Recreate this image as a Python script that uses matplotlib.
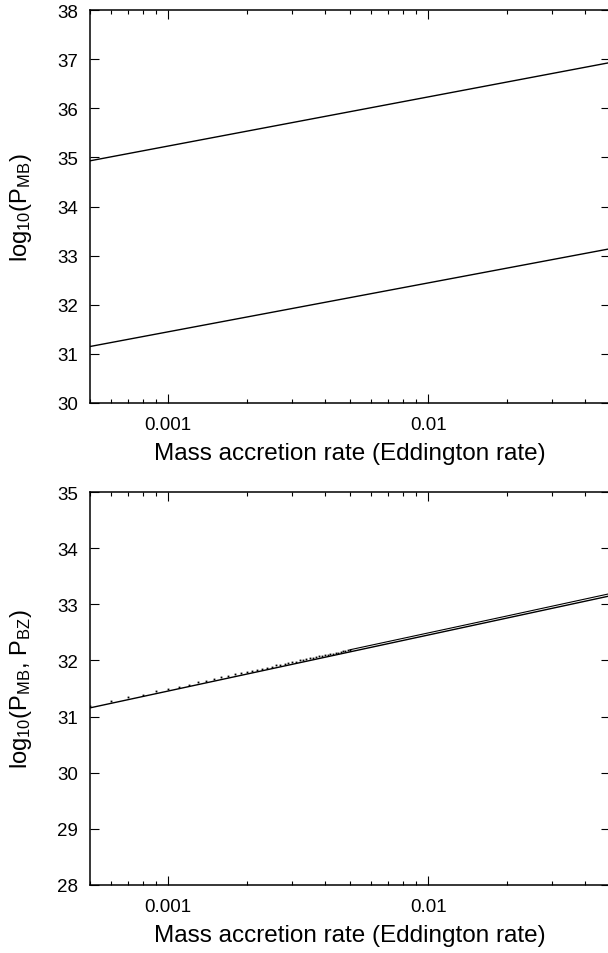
import numpy as np
import matplotlib
matplotlib.use('Agg')
import matplotlib.pyplot as plt
from matplotlib.ticker import LogLocator, FixedLocator, FixedFormatter, NullFormatter

plt.rcParams['font.family'] = ['Liberation Sans', 'DejaVu Sans']
plt.rcParams['mathtext.default'] = 'regular'

# top panel: two power lines (log10 P_MB), read at the ends of the x range
mdot_top = [0.0005, 0.05]
pmb_high = [34.93, 36.93]
pmb_low = [31.15, 33.14]

# bottom panel: P_MB solid line and P_BZ dotted (sampled every 1e-4)
mdot_bot = [0.0005, 0.05]
pmb_bot = [31.155, 33.15]
mdot_dots = [0.0005, 0.0006, 0.0007, 0.0008, 0.0009, 0.0010, 0.0011, 0.0012, 0.0013,
             0.0014, 0.0015, 0.0016, 0.0017, 0.0018, 0.0019, 0.0020, 0.0021, 0.0022,
             0.0023, 0.0024, 0.0025, 0.0026, 0.0027, 0.0028, 0.0029, 0.0030, 0.0031,
             0.0032, 0.0033, 0.0034, 0.0035, 0.0036, 0.0037, 0.0038, 0.0039, 0.0040,
             0.0041, 0.0042, 0.0043, 0.0044, 0.0045, 0.0046, 0.0047, 0.0048, 0.0049,
             0.0050]
pbz_dots = [31.19, 31.27, 31.34, 31.39, 31.45, 31.49, 31.53, 31.57, 31.61,
            31.64, 31.67, 31.70, 31.72, 31.75, 31.77, 31.79, 31.81, 31.83,
            31.85, 31.87, 31.89, 31.91, 31.92, 31.94, 31.95, 31.97, 31.98,
            32.00, 32.01, 32.02, 32.04, 32.05, 32.06, 32.07, 32.08, 32.09,
            32.10, 32.11, 32.12, 32.13, 32.14, 32.15, 32.16, 32.17, 32.18,
            32.19]
# where the dots run together into a line
mdot_dense = [0.005, 0.01, 0.02, 0.05]
pbz_dense = [32.19, 32.49, 32.79, 33.19]

xticks = [0.001, 0.01]
xticklabels = ['0.001', '0.01']

fig = plt.figure(figsize=(6.08, 9.54), dpi=100)
W, H = 608., 954.
ax1 = fig.add_axes([90/W, (H-404)/H, 520/W, 393/H])
ax2 = fig.add_axes([90/W, (H-886)/H, 520/W, 393/H])

def style(ax, ylo, yhi, ylabel):
  ax.set_xscale('log')
  ax.set_xlim(0.0005, 0.05)
  ax.set_ylim(ylo, yhi)
  ax.xaxis.set_major_locator(FixedLocator(xticks))
  ax.xaxis.set_major_formatter(FixedFormatter(xticklabels))
  ax.xaxis.set_minor_locator(LogLocator(base=10, subs=np.arange(2, 10)))
  ax.xaxis.set_minor_formatter(NullFormatter())
  ax.set_yticks(range(ylo, yhi+1))
  ax.tick_params(which='both', direction='in', top=True, right=True, labelsize=13.5, width=0.8)
  ax.tick_params(which='major', length=6.5)
  ax.tick_params(axis='x', which='major', pad=9.5)
  ax.tick_params(axis='y', which='major', pad=8.4)
  ax.tick_params(which='minor', length=3.2)
  for s in ax.spines.values():
    s.set_linewidth(1.1)
  ax.set_xlabel('Mass accretion rate (Eddington rate)', size=17.5)
  ax.xaxis.set_label_coords(0.5, -39/393.)
  ax.set_ylabel(ylabel, size=17)
  ax.yaxis.set_label_coords(-56/520., 0.5)

ax1.plot(mdot_top, pmb_high, c='k', lw=1.0)
ax1.plot(mdot_top, pmb_low, c='k', lw=1.0)
style(ax1, 30, 38, r'log$_{10}$(P$_{MB}$)')

ax2.plot(mdot_bot, pmb_bot, c='k', lw=1.0)
ax2.plot(mdot_dots, pbz_dots, ls='none', marker='s', ms=1.3, mew=0, c='k')
ax2.plot(mdot_dense, pbz_dense, c='k', lw=0.8)
style(ax2, 28, 35, r'log$_{10}$(P$_{MB}$, P$_{BZ}$)')

plt.savefig('out.png', dpi=100)
